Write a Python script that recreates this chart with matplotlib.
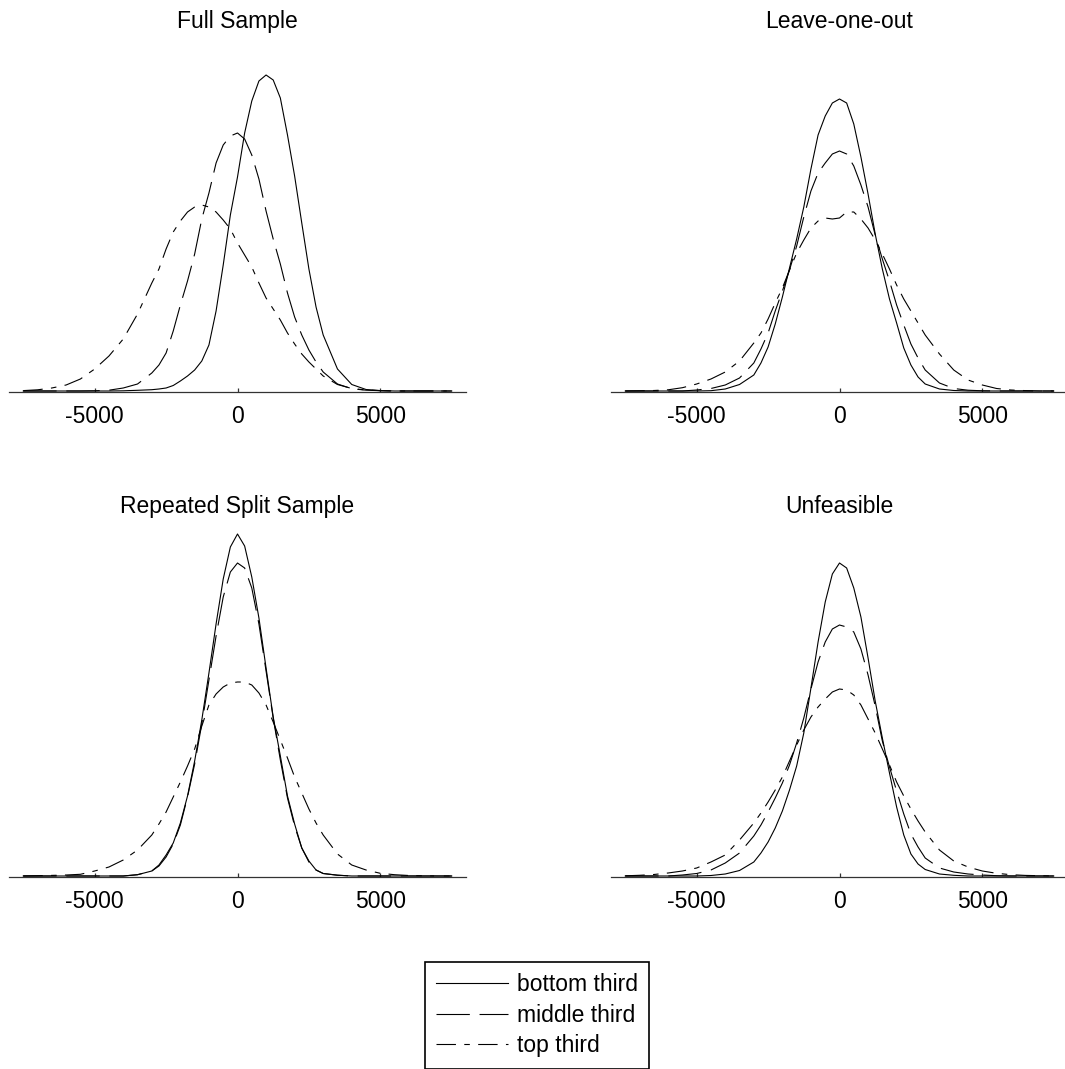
import matplotlib

matplotlib.use("Agg")
import matplotlib.pyplot as plt
from matplotlib.lines import Line2D


X_GRID = [
    -7500, -7000, -6500, -6000, -5500, -5000, -4500, -4000, -3500,
    -3000, -2750, -2500, -2250, -2000, -1750, -1500, -1250, -1000, -750, -500, -250,
    0, 250, 500, 750, 1000, 1250, 1500, 1750, 2000, 2250, 2500, 2750, 3000,
    3500, 4000, 4500, 5000, 5500, 6000, 6500, 7000, 7500,
]

# Densities in arbitrary units (same scale in every panel)
FULL_BOTTOM = [
    0, 0, 0, 0, 0, 0, 0, 0.2, 0.7,
    1.3, 2, 3, 5.5, 10, 15, 21, 30, 46, 80, 126, 176,
    214, 258, 290, 310, 316, 311, 293, 256, 215, 168, 122, 84, 56,
    22, 6.5, 1.5, 0.4, 0, 0, 0, 0, 0,
]
FULL_MIDDLE = [
    0, 0, 0, 0, 0, 0.2, 0.8, 3, 7,
    18, 26, 38, 60, 86, 110, 137, 172, 198, 228, 246, 255,
    258, 252, 236, 212, 180, 152, 127, 98, 74, 56, 41, 29, 19,
    7, 2.3, 0.8, 0.3, 0, 0, 0, 0, 0,
]
FULL_TOP = [
    0.4, 1.2, 3, 6, 12, 22, 35, 52, 77,
    108, 122, 142, 159, 170, 179, 184, 186, 184, 179, 171, 162,
    148, 136, 124, 108, 93, 82, 71, 58, 47, 37, 29, 22, 15,
    6.5, 2.5, 1, 0.4, 0, 0, 0, 0, 0,
]

LOO_BOTTOM = [
    0, 0, 0, 0, 0, 0, 0.3, 2, 6.5,
    16, 28, 44, 67, 94, 123, 152, 184, 222, 256, 275, 288,
    292, 288, 267, 234, 197, 157, 122, 92, 68, 43, 26, 14, 7,
    2, 0.5, 0, 0, 0, 0, 0, 0, 0,
]
LOO_MIDDLE = [
    0, 0, 0, 0, 0, 1, 2.5, 6, 13,
    28, 42, 58, 80, 100, 121, 145, 174, 200, 218, 228, 237,
    240, 237, 225, 206, 184, 156, 132, 110, 86, 66, 47, 33, 21,
    8, 2.5, 0.8, 0.2, 0, 0, 0, 0, 0,
]
LOO_TOP = [
    0, 0.2, 0.5, 1.2, 3.3, 7, 12, 19, 30,
    48, 58, 72, 88, 103, 121, 138, 151, 163, 170, 173, 172,
    173, 179, 179, 172, 163, 151, 137, 122, 106, 92, 80, 68, 56,
    37, 21, 11, 6, 2.5, 1, 0.4, 0, 0,
]

RSS_BOTTOM = [
    0, 0, 0, 0, 0, 0, 0, 0, 1.3,
    5, 11, 21, 33, 53, 80, 115, 156, 203, 252, 297, 329,
    342, 330, 299, 258, 208, 159, 120, 80, 52, 28, 15, 6, 2.5,
    0.8, 0, 0, 0, 0, 0, 0, 0, 0,
]
RSS_MIDDLE = [
    0, 0, 0, 0, 0, 0, 0, 0, 1.3,
    5, 10, 19, 32, 51, 79, 112, 152, 196, 240, 279, 304,
    313, 308, 288, 252, 205, 158, 116, 78, 50, 28, 14, 6, 2.5,
    0.8, 0, 0, 0, 0, 0, 0, 0, 0,
]
RSS_TOP = [
    0, 0.3, 0.6, 1, 1.7, 5, 9, 16, 26,
    41, 52, 64, 79, 94, 110, 127, 150, 171, 182, 189, 193,
    194, 194, 191, 183, 171, 154, 136, 118, 99, 83, 67, 53, 41,
    22, 11, 6, 2.7, 1.3, 0.5, 0.2, 0, 0,
]

UNF_BOTTOM = [
    0, 0, 0, 0, 0, 0, 0.5, 2, 5.5,
    14, 23, 34, 48, 65, 86, 110, 143, 188, 234, 274, 302,
    313, 308, 288, 259, 218, 175, 138, 103, 69, 41, 22, 12, 6.5,
    2, 0.7, 0, 0, 0, 0, 0, 0, 0,
]
UNF_MIDDLE = [
    0, 0, 0, 0, 1, 2.5, 6, 13, 23,
    40, 51, 64, 78, 93, 111, 133, 158, 187, 214, 234, 247,
    251, 249, 244, 227, 201, 170, 135, 109, 85, 62, 42, 29, 18,
    8, 4, 2, 1, 0.3, 0, 0, 0, 0,
]
UNF_TOP = [
    0.2, 0.7, 1.5, 3, 5, 8, 14, 21, 36,
    53, 63, 74, 86, 99, 115, 131, 146, 159, 169, 177, 184,
    187, 186, 181, 171, 157, 143, 127, 111, 94, 80, 67, 55, 44,
    26, 15, 9, 5, 2.7, 1.3, 0.6, 0.3, 0,
]

TITLES = ["Full Sample", "Leave-one-out", "Repeated Split Sample", "Unfeasible"]
SERIES_LABELS = ["bottom third", "middle third", "top third"]
PANEL_DATA = [
    [FULL_BOTTOM, FULL_MIDDLE, FULL_TOP],
    [LOO_BOTTOM, LOO_MIDDLE, LOO_TOP],
    [RSS_BOTTOM, RSS_MIDDLE, RSS_TOP],
    [UNF_BOTTOM, UNF_MIDDLE, UNF_TOP],
]
X_TICKS = [-5000, 0, 5000]

# line patterns in points (dash scaling off)
LINE_STYLES = ["-", (0, (24, 7)), (0, (14, 6, 4, 6))]

W, H = 1065, 1069
FONT_SIZE = 16.5

plt.rcParams["font.family"] = ["Liberation Sans", "DejaVu Sans"]
plt.rcParams["lines.scale_dashes"] = False


def px_rect(left, top, width, height):
    return [left / W, 1 - (top + height) / H, width / W, height / H]


def draw_panel(ax, title, curves):
    for values, ls in zip(curves, LINE_STYLES):
        ax.plot(X_GRID, values, color="black", linestyle=ls, linewidth=0.8)
    ax.set_xlim(-8000, 8000)
    ax.set_ylim(-1, 355)
    ax.set_xticks(X_TICKS)
    ax.set_xticklabels([str(t) for t in X_TICKS])
    ax.set_yticks([])
    for side in ["top", "left", "right"]:
        ax.spines[side].set_visible(False)
    ax.spines["bottom"].set_color("#333333")
    ax.spines["bottom"].set_linewidth(0.9)
    ax.tick_params(axis="x", direction="in", length=3, width=0.9,
                   color="#333333", pad=9.5, labelsize=FONT_SIZE)
    ax.set_title(title, fontsize=FONT_SIZE, pad=5.8)
    ax.patch.set_alpha(0)


def main():
    fig = plt.figure(figsize=(W / 100, H / 100), dpi=100)
    positions = [
        px_rect(9, 36, 457, 356),
        px_rect(611, 36, 457, 356),
        px_rect(9, 521, 457, 356),
        px_rect(611, 521, 457, 356),
    ]
    for pos, title, curves in zip(positions, TITLES, PANEL_DATA):
        ax = fig.add_axes(pos)
        draw_panel(ax, title, curves)

    handles = [Line2D([], [], color="black", linestyle=ls, linewidth=0.8)
               for ls in LINE_STYLES]
    leg = fig.legend(
        handles, SERIES_LABELS,
        loc="upper left",
        bbox_to_anchor=(425 / W, 1 - 962 / H),
        borderaxespad=0,
        borderpad=0.5,
        labelspacing=0.32,
        handlelength=3.1,
        handletextpad=0.4,
        fontsize=FONT_SIZE,
        fancybox=False,
        frameon=True,
        framealpha=1,
        edgecolor="black",
    )
    leg.get_frame().set_linewidth(1.2)

    fig.savefig("out.png", dpi=100, facecolor="white")
    plt.close(fig)


if __name__ == "__main__":
    main()
